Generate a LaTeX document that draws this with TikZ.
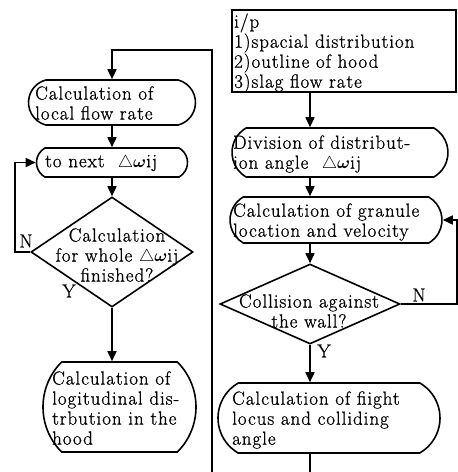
\documentclass[tikz,border=0pt]{standalone}
\usepackage{amsmath}
\usepackage{fontspec}
\setmainfont{Latin Modern Roman}[LetterSpace=5,FakeBold=0.8]
\usetikzlibrary{shapes.misc,shapes.geometric,arrows.meta}
\begin{document}
\begin{tikzpicture}[x=1pt,y=-1pt,
  every node/.style={font=\fontsize{19}{20}\selectfont},
  shp/.style={draw, line width=1.6pt, inner sep=0pt},
  rr/.style={shp, rounded rectangle, rounded rectangle arc length=120},
  txt/.style={inner sep=0pt, align=left, anchor=west},
  ctxt/.style={inner sep=0pt, align=center},
  arr/.style={line width=1.6pt, -{Triangle[length=10pt,width=9pt]}},
  ln/.style={line width=1.6pt}]
\useasboundingbox (0,0) rectangle (458,472);
% left column
\node[rr, rounded rectangle arc length=150, minimum width=167pt, minimum height=45pt] (lf) at (112,102.5) {};
\node[txt] (lft) at (35,103) {Calculation of\\local flow rate};
\node[rr, minimum width=151pt, minimum height=29pt] (tn) at (112,162.5) {};
\node[txt] (tnt) at (45,163) {to next \ $\triangle\boldsymbol{\omega}$ij};
\node[shp, diamond, minimum width=162pt, minimum height=110pt] (d1) at (112,252) {};
\node[ctxt] (d1t) at (117,255) {Calculation\\for whole $\triangle\boldsymbol{\omega}$ij\\finished?};
\node[rr, rounded rectangle arc length=90, minimum width=153pt, minimum height=90pt] (lg) at (119.5,407) {};
\node[txt] (lgt) at (52,408) {Calculation of\\logitudinal dis-\\trbution in the\\hood};
% right column
\node[shp, rectangle, minimum width=224pt, minimum height=82pt] (ip) at (344,51) {};
\node[txt] (ipt) at (234,53) {i/p\\1)spacial distribution\\2)outline of hood\\3)slag flow rate};
\node[rr, minimum width=216pt, minimum height=49pt] (dv) at (340,152.5) {};
\node[txt] (dvt) at (233,154) {Division of distribut-\\ion angle \ $\triangle\boldsymbol{\omega}$ij};
\node[rr, minimum width=212pt, minimum height=46pt] (gr) at (336,220) {};
\node[txt] (grt) at (233,222) {Calculation of granule\\location and velocity};
\node[shp, diamond, minimum width=180pt, minimum height=80pt] (d2) at (310,304) {};
\node[ctxt] (d2t) at (309,311) {Collision against\\the wall?};
\node[rr, minimum width=222pt, minimum height=70pt] (fl) at (329,418) {};
\node[txt] (flt) at (232,420) {Calculation of fiight\\locus and colliding\\angle};
% labels
\node[inner sep=0pt] (nL) at (26,241) {N};
\node[inner sep=0pt] (yL) at (69,291) {Y};
\node[inner sep=0pt] (nR) at (419,295) {N};
\node[inner sep=0pt] (yR) at (324,351) {Y};
% helper coordinates
\coordinate (lb) at (212,472);
\coordinate (tp) at (212,50);
\coordinate (nl) at (15,252);
\coordinate (nr) at (457,304);
\coordinate (rb) at (310,472);
% connectors
\draw[arr] (lb) -- (tp) -| (lf.north);
\draw[arr] (lf) -- (tn);
\draw[arr] (tn) -- (d1);
\draw[arr] (d1.west) -- (nl) |- (tn.west);
\draw[arr] (d1.south) -- (d1.south |- lg.north);
\draw[arr] (ip.south -| d2.north) -- (d2.north |- dv.north);
\draw[arr] (d2.north |- dv.south) -- (d2.north |- gr.north);
\draw[arr] (d2.north |- gr.south) -- (d2.north);
\draw[arr] (d2.east) -- (nr) |- (gr.east);
\draw[arr] (d2.south) -- (d2.south |- fl.north);
\draw[ln] (fl.south -| d2.south) -- (rb);
\end{tikzpicture}
\end{document}
